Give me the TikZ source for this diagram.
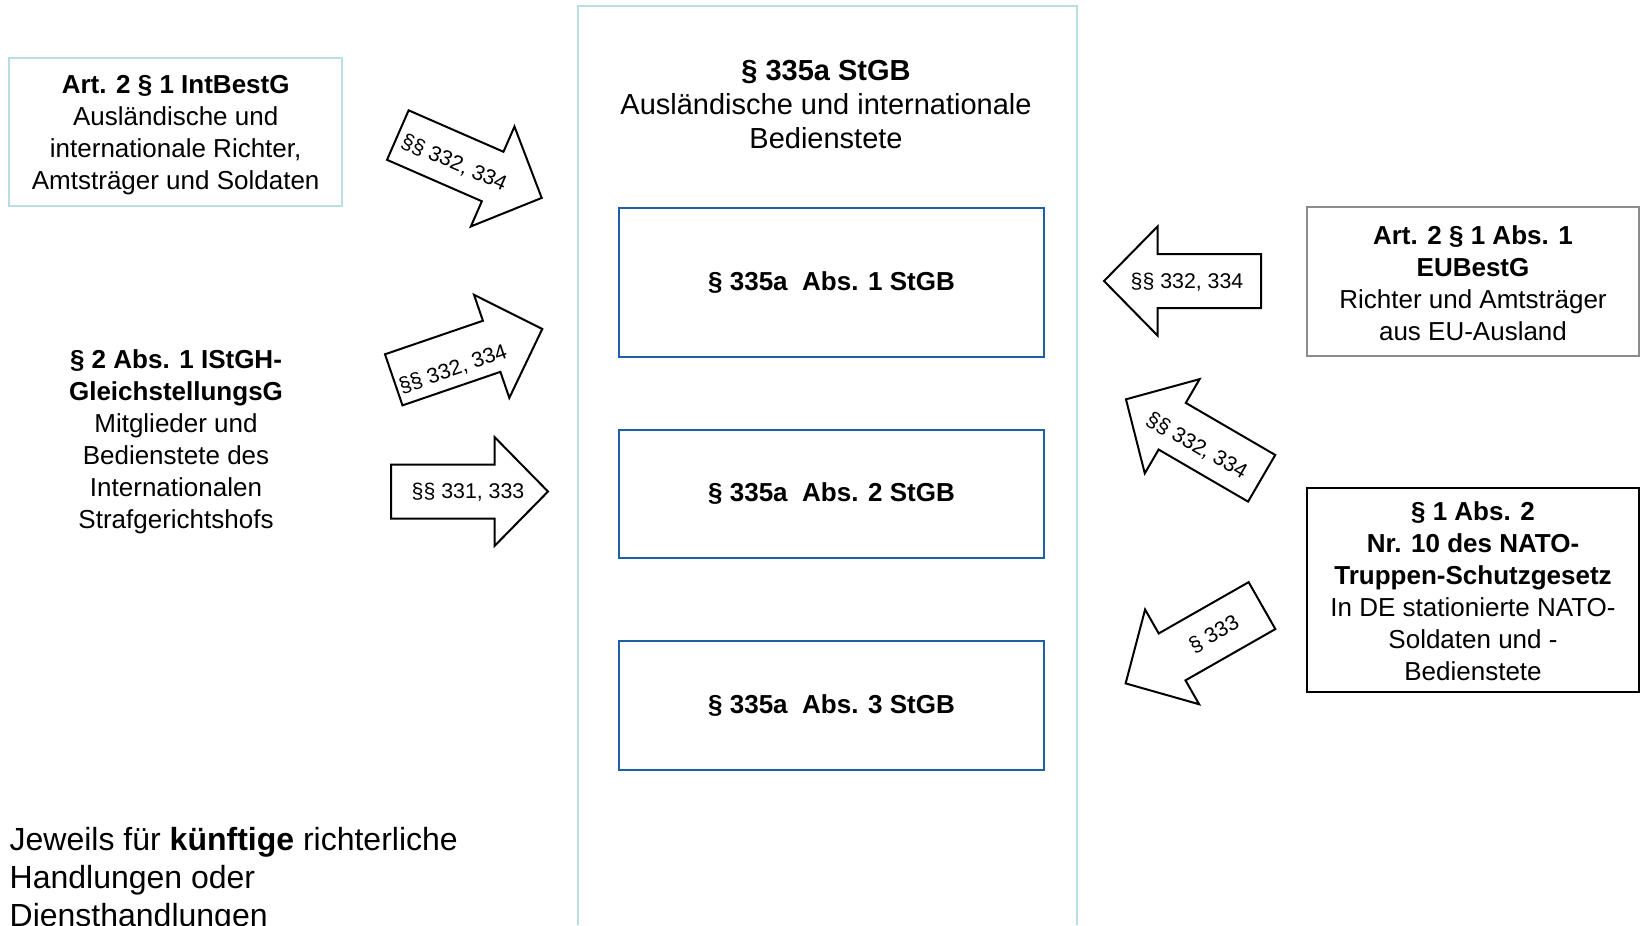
\documentclass[tikz,border=0pt]{standalone}
\usepackage{fontspec}
\setmainfont{Liberation Sans}
\begin{document}
\begin{tikzpicture}[x=0.75pt,y=-0.75pt,
  bodytext/.style={font=\fontsize{19.5pt}{24pt}\selectfont, align=center, inner sep=0pt},
  titletext/.style={font=\fontsize{21.75pt}{25.5pt}\selectfont, align=center, inner sep=0pt},
  notetext/.style={font=\fontsize{24pt}{28.5pt}\selectfont, align=left, inner sep=0pt},
  lbl/.style={font=\fontsize{16pt}{19pt}\selectfont, inner sep=0pt},
  framebox/.style={line width=1.5pt, minimum width=249pt, inner sep=0pt},
  subbox/.style={draw=boxblue, line width=1.5pt, minimum width=318.75pt, inner sep=0pt,
                 font=\bfseries\fontsize{19.5pt}{24pt}\selectfont},
  arrowoutline/.style={draw=black, fill=white, line width=1.5pt, line join=miter},
  pics/fatarrow/.style={code={
    \draw[arrowoutline] (-78.5,-27) -- (25,-27) -- (25,-54.5) -- (78.5,0)
      -- (25,54.5) -- (25,27) -- (-78.5,27) -- cycle;
  }}
]
\definecolor{paleblue}{HTML}{B7DEE4}
\definecolor{boxblue}{HTML}{1F5FA8}
\definecolor{framegray}{HTML}{8C8C8C}

\useasboundingbox (0,0) rectangle (1640,925);

% central frame, open at the bottom
\draw[paleblue, line width=1.5pt] (577.5,925) -- (577.5,6.3) -- (1076.7,6.3) -- (1076.7,925);
\node[titletext] (title) at (826,104.5) {\textbf{§ 335a StGB}\\Ausländische und internationale\\Bedienstete};

% paragraphs of § 335a
\node[subbox, minimum height=111.75pt] (abs1) at (831.5,282.5) {§ 335a\ \ Abs. 1 StGB};
\node[subbox, minimum height=96.3pt]   (abs2) at (831.5,494)   {§ 335a\ \ Abs. 2 StGB};
\node[subbox, minimum height=96.5pt]   (abs3) at (831.5,705.5) {§ 335a\ \ Abs. 3 StGB};

% sources on the left
\node[framebox, draw=paleblue, minimum width=249.5pt, minimum height=111.4pt] (intbox) at (175.7,131.8) {};
\node[bodytext] (int) at (175.7,135.4) {\textbf{Art. 2 § 1 IntBestG}\\Ausländische und\\internationale Richter,\\Amtsträger und Soldaten};
\node[bodytext] (istgh) at (176,442) {\textbf{§ 2 Abs. 1 IStGH-}\\\textbf{GleichstellungsG}\\Mitglieder und\\Bedienstete des\\Internationalen\\Strafgerichtshofs};

% sources on the right
\node[framebox, draw=framegray, minimum height=111.75pt] (eubox) at (1473,281.5) {};
\node[bodytext] (eu) at (1473,283) {\textbf{Art. 2 § 1 Abs. 1}\\\textbf{EUBestG}\\Richter und Amtsträger\\aus EU-Ausland};
\node[framebox, draw=black, minimum height=152.5pt] (natobox) at (1473,590) {};
\node[bodytext] (nato) at (1473,591.5) {\textbf{§ 1 Abs. 2}\\\textbf{Nr. 10 des NATO-}\\\textbf{Truppen-Schutzgesetz}\\In DE stationierte NATO-\\Soldaten und -\\Bedienstete};

% block arrows
\pic[rotate=-23.6] at (469.75,166.5) {fatarrow};
\pic[rotate=18.9]  at (468,354.4)    {fatarrow};
\pic               at (469.5,491.5)  {fatarrow};
\pic[rotate=180]   at (1182.5,281)   {fatarrow};
\pic[rotate=149.8] at (1193.8,438.8) {fatarrow};
\pic[rotate=209.7] at (1193.8,644.5) {fatarrow};

\node[lbl, rotate=-23.6] (la) at (454,163)     {§§ 332, 334};
\node[lbl, rotate=18.9]  (lb) at (453,369.5)   {§§ 332, 334};
\node[lbl]               (lc) at (468,492.5)   {§§ 331, 333};
\node[lbl]               (ld) at (1187,282)    {§§ 332, 334};
\node[lbl, rotate=-30.2] (le) at (1196.7,446)  {§§ 332, 334};
\node[lbl, rotate=29.7]  (lf) at (1214,634.3)  {§ 333};

% note at the bottom left
\node[notetext, anchor=north west] (note) at (9.4,827) {Jeweils für \textbf{künftige} richterliche\\Handlungen oder\\Diensthandlungen};
\end{tikzpicture}
\end{document}
